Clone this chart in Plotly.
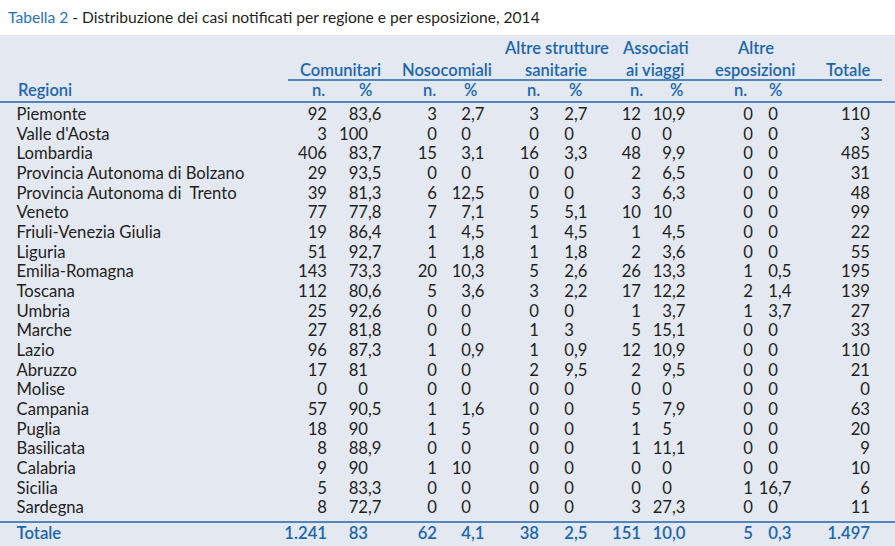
import plotly.graph_objects as go

# ---------------- data ----------------
regioni = ["Piemonte", "Valle d'Aosta", "Lombardia", "Provincia Autonoma di Bolzano",
           "Provincia Autonoma di\u00a0 Trento", "Veneto", "Friuli-Venezia Giulia", "Liguria",
           "Emilia-Romagna", "Toscana", "Umbria", "Marche", "Lazio", "Abruzzo", "Molise",
           "Campania", "Puglia", "Basilicata", "Calabria", "Sicilia", "Sardegna"]
comunitari_n = [92, 3, 406, 29, 39, 77, 19, 51, 143, 112, 25, 27, 96, 17, 0, 57, 18, 8, 9, 5, 8]
comunitari_pct = [83.6, 100, 83.7, 93.5, 81.3, 77.8, 86.4, 92.7, 73.3, 80.6, 92.6, 81.8, 87.3, 81, 0,
                  90.5, 90, 88.9, 90, 83.3, 72.7]
nosocomiali_n = [3, 0, 15, 0, 6, 7, 1, 1, 20, 5, 0, 0, 1, 0, 0, 1, 1, 0, 1, 0, 0]
nosocomiali_pct = [2.7, 0, 3.1, 0, 12.5, 7.1, 4.5, 1.8, 10.3, 3.6, 0, 0, 0.9, 0, 0, 1.6, 5, 0, 10, 0, 0]
altre_strutture_n = [3, 0, 16, 0, 0, 5, 1, 1, 5, 3, 0, 1, 1, 2, 0, 0, 0, 0, 0, 0, 0]
altre_strutture_pct = [2.7, 0, 3.3, 0, 0, 5.1, 4.5, 1.8, 2.6, 2.2, 0, 3, 0.9, 9.5, 0, 0, 0, 0, 0, 0, 0]
viaggi_n = [12, 0, 48, 2, 3, 10, 1, 2, 26, 17, 1, 5, 12, 2, 0, 5, 1, 1, 0, 0, 3]
viaggi_pct = [10.9, 0, 9.9, 6.5, 6.3, 10, 4.5, 3.6, 13.3, 12.2, 3.7, 15.1, 10.9, 9.5, 0, 7.9, 5, 11.1, 0, 0, 27.3]
altre_esp_n = [0, 0, 0, 0, 0, 0, 0, 0, 1, 2, 1, 0, 0, 0, 0, 0, 0, 0, 0, 1, 0]
altre_esp_pct = [0, 0, 0, 0, 0, 0, 0, 0, 0.5, 1.4, 3.7, 0, 0, 0, 0, 0, 0, 0, 0, 16.7, 0]
totale = [110, 3, 485, 31, 48, 99, 22, 55, 195, 139, 27, 33, 110, 21, 0, 63, 20, 9, 10, 6, 11]
totale_riga = ["1.241", "83", "62", "4,1", "38", "2,5", "151", "10,0", "5", "0,3", "1.497"]

group_headers = [["Comunitari"], ["Nosocomiali"], ["Altre strutture", "sanitarie"],
                 ["Associati", "ai viaggi"], ["Altre", "esposizioni"], ["Totale"]]
title_prefix = "Tabella 2"
title_rest = " - Distribuzione dei casi notificati per regione e per esposizione, 2014"

# ---------------- style / layout ----------------
W, H = 895, 546
ROW0, STEP = 116.0, 19.65
TOTAL_PX = 535.0
BLUE = "#1c67ab"
LINE = "#1f66a8"
TEXT = "#231f20"
BG = "#e3e8f1"
FONT = "Lato"
FS = 16.7
HFS = 16.5
FRAC_W = 13.5   # width of ",d" used for decimal alignment


def py(px):
    return (px - ROW0) / STEP


rows = list(range(len(regioni)))
ytot = py(TOTAL_PX)


def fmt_pct(v):
    return str(int(v)) if v == int(v) else ("%.1f" % v).replace(".", ",")


body_font = dict(family=FONT, size=FS, color=TEXT)
tot_font = dict(family=FONT, size=FS, color=BLUE, weight=600)

fig = go.Figure()


def add_text(xs, ys, texts, pos, font):
    if not isinstance(xs, list):
        xs = [xs] * len(ys)
    fig.add_trace(go.Scatter(x=xs, y=ys, text=texts, mode="text",
                             textposition=pos, textfont=font, hoverinfo="skip",
                             showlegend=False, cliponaxis=False))


def dec_x(xd, labels):
    return [xd + FRAC_W if "," in s else xd for s in labels]


# region names
add_text(16.5, rows, regioni, "middle right", body_font)
add_text(16.5, [ytot], ["Totale"], "middle right", tot_font)

# columns: (n values, pct values, n right edge, pct decimal position)
cols = [
    (comunitari_n, comunitari_pct, 327, 368),
    (nosocomiali_n, nosocomiali_pct, 437, 471),
    (altre_strutture_n, altre_strutture_pct, 539, 574),
    (viaggi_n, viaggi_pct, 641, 672),
    (altre_esp_n, altre_esp_pct, 753, 778),
]
for k, (nv, pv, xn, xd) in enumerate(cols):
    add_text(xn, rows, [str(v) for v in nv], "middle left", body_font)
    labels = [fmt_pct(v) for v in pv]
    add_text(dec_x(xd, labels), rows, labels, "middle left", body_font)
    tn = totale_riga[2 * k]
    tp = totale_riga[2 * k + 1]
    add_text(xn, [ytot], [tn], "middle left", tot_font)
    add_text(dec_x(xd, [tp]), [ytot], [tp], "middle left", tot_font)

add_text(870, rows, [str(v) for v in totale], "middle left", body_font)
add_text(870, [ytot], [totale_riga[-1]], "middle left", tot_font)

# ---------------- header ----------------
ann = []
hfont = dict(family=FONT, size=HFS, color=BLUE, weight=600)
group_centers = [340, 447, 556, 655, 755, 848]
for cx, lines in zip(group_centers, group_headers):
    ys = [70] if len(lines) == 1 else [48, 70]
    for t, yy in zip(lines, ys):
        ann.append(dict(x=cx, y=py(yy), text=t, xref="x", yref="y", showarrow=False,
                        xanchor="center", yanchor="middle", font=hfont))
ann.append(dict(x=16, y=py(90), text="Regioni", xref="x", yref="y", showarrow=False,
                xanchor="left", yanchor="middle", font=hfont))
n_right = [327, 438, 542, 645, 749]
pct_center = [365, 470, 575, 676, 775]
for xr, xc in zip(n_right, pct_center):
    ann.append(dict(x=xr, y=py(90), text="n.", xref="x", yref="y", showarrow=False,
                    xanchor="right", yanchor="middle", font=hfont))
    ann.append(dict(x=xc, y=py(90), text="%", xref="x", yref="y", showarrow=False,
                    xanchor="center", yanchor="middle", font=hfont))
ann.append(dict(x=6, y=py(17), xref="x", yref="y", showarrow=False, xanchor="left",
                yanchor="middle",
                text="<span style='color:%s'>%s</span>%s" % ("#1f73b9", title_prefix, title_rest),
                font=dict(family=FONT, size=15.6, color="#231f20")))

shapes = [
    dict(type="rect", xref="x", yref="y", x0=0, x1=W, y0=py(35), y1=py(H), fillcolor=BG,
         line=dict(width=0), layer="below"),
    dict(type="line", xref="x", yref="y", x0=288, x1=882, y0=py(80), y1=py(80),
         line=dict(color=LINE, width=1.5)),
    dict(type="line", xref="x", yref="y", x0=0, x1=W, y0=py(102), y1=py(102),
         line=dict(color=LINE, width=1.5)),
    dict(type="line", xref="x", yref="y", x0=0, x1=W, y0=py(522), y1=py(522),
         line=dict(color=LINE, width=1.5)),
]

fig.update_layout(
    width=W, height=H, margin=dict(l=0, r=0, t=0, b=0),
    paper_bgcolor="white", plot_bgcolor="white",
    xaxis=dict(range=[0, W], visible=False, fixedrange=True),
    yaxis=dict(range=[py(H), py(0)], visible=False, fixedrange=True),
    annotations=ann, shapes=shapes, showlegend=False,
)

fig.write_html("out.html", config={"displayModeBar": False},
               post_script="document.body.style.margin='0px';document.body.style.overflow='hidden';")
